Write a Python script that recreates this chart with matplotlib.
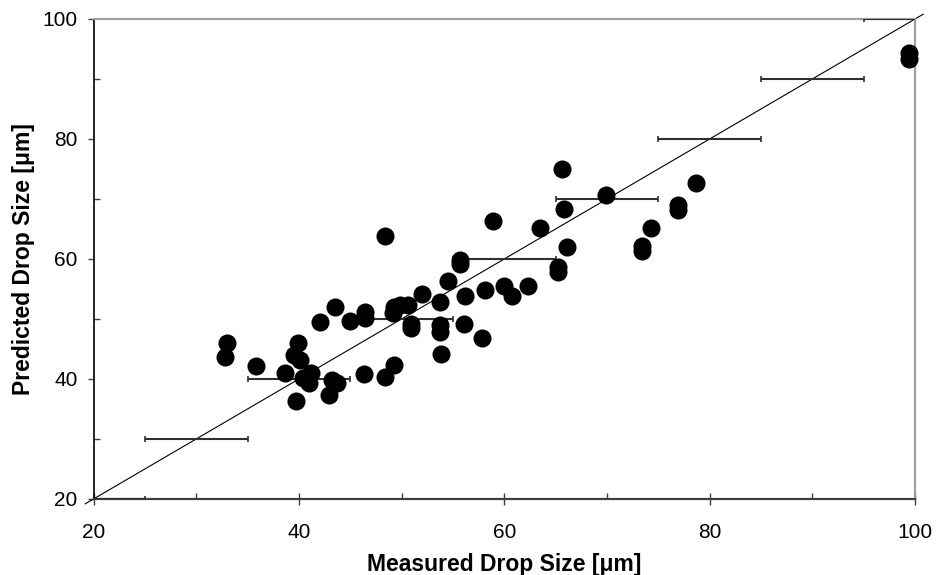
import matplotlib
matplotlib.use('Agg')
import matplotlib.pyplot as plt
from matplotlib.ticker import MultipleLocator

plt.rcParams['font.family'] = ['Liberation Sans', 'DejaVu Sans']

# measured vs predicted drop size
measured = [33.0, 32.8, 35.8, 38.6, 39.9, 39.5, 40.1, 41.2, 40.4, 41.0,
            39.7, 42.05, 43.5, 45.0, 46.4, 46.4, 43.2, 43.7, 42.9, 46.3,
            48.4, 49.3, 48.4, 49.3, 49.8, 50.6, 49.2, 50.9, 50.9, 52.0,
            53.7, 53.7, 53.7, 53.85, 54.55, 55.7, 55.7, 56.2, 56.1, 57.85,
            58.1, 58.9, 60.0, 60.8, 62.3, 63.5, 65.25, 65.25, 65.8, 66.1,
            65.6, 69.9, 73.4, 73.4, 74.25, 76.95, 76.95, 78.7, 99.4, 99.4]
predicted = [46.0, 43.7, 42.2, 41.0, 46.0, 44.0, 43.1, 41.0, 40.1, 39.3,
             36.3, 49.5, 52.0, 49.7, 51.2, 50.2, 39.8, 39.4, 37.4, 40.9,
             40.4, 42.3, 63.8, 52.0, 52.3, 52.3, 51.0, 49.1, 48.5, 54.2,
             52.9, 49.0, 47.9, 44.1, 56.3, 59.8, 59.2, 53.8, 49.2, 46.9,
             54.8, 66.4, 55.5, 53.8, 55.5, 65.1, 58.6, 57.8, 68.4, 62.0,
             75.0, 70.7, 62.2, 61.3, 65.1, 69.0, 68.1, 72.7, 94.4, 93.3]

# +/- 5 um bars along the 1:1 line
bar_centers = [20, 30, 40, 50, 60, 70, 80, 90, 100]
bar_err = 5
line_ends = [19.2, 100.8]

fig = plt.figure(figsize=(9.36, 5.75), dpi=100)
ax = fig.add_axes([0.0999, 0.1322, 0.8777, 0.8348])

ax.plot(line_ends, line_ends, color='black', lw=0.8, clip_on=False, zorder=2)
ax.errorbar(bar_centers, bar_centers, xerr=bar_err, fmt='none', ecolor='#303030',
            elinewidth=1.5, capsize=2.5, capthick=1.2, zorder=3)
ax.plot(measured, predicted, 'o', color='black', markersize=13, markeredgewidth=0,
        clip_on=False, zorder=4)

ax.set_xlim(20, 100)
ax.set_ylim(20, 100)
ax.xaxis.set_major_locator(MultipleLocator(20))
ax.xaxis.set_minor_locator(MultipleLocator(10))
ax.yaxis.set_major_locator(MultipleLocator(20))
ax.yaxis.set_minor_locator(MultipleLocator(10))

ax.tick_params(axis='x', which='major', direction='inout', length=8, width=1,
               color='#404040', labelsize=15, pad=13)
ax.tick_params(axis='x', which='minor', direction='in', length=4, width=1, color='#404040')
ax.tick_params(axis='y', which='major', direction='out', length=4.5, width=1,
               color='#404040', labelsize=15, pad=7)
ax.tick_params(axis='y', which='minor', direction='in', length=4, width=1, color='#404040')

ax.spines['left'].set_color('black')
ax.spines['left'].set_linewidth(1.2)
ax.spines['bottom'].set_color('#404040')
ax.spines['bottom'].set_linewidth(1.6)
for side in ['top', 'right']:
    ax.spines[side].set_color('#a0a0a0')
    ax.spines[side].set_linewidth(1.6)

ax.set_xlabel('Measured Drop Size [μm]', fontsize=16.5, fontweight='bold', labelpad=8)
ax.set_ylabel('Predicted Drop Size [μm]', fontsize=16.5, fontweight='bold', labelpad=5)

fig.savefig('out.png', dpi=100)
